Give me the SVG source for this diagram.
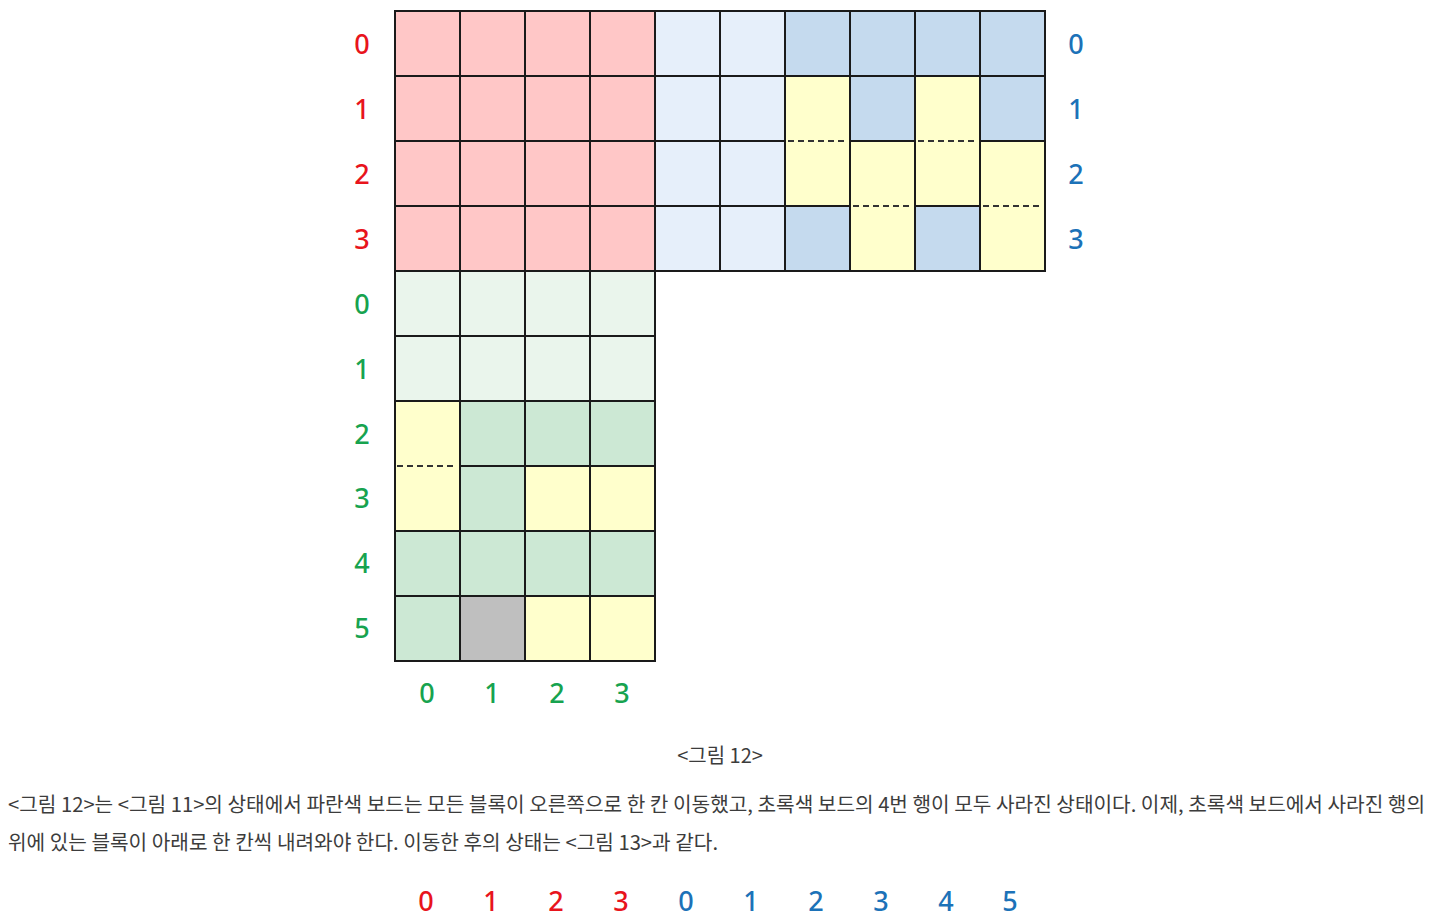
<svg xmlns="http://www.w3.org/2000/svg" width="1440" height="924" viewBox="0 0 1440 924">
<style>
.c{stroke:#1a1a1a;stroke-width:2}
.r{fill:#FFC7C7}.lb{fill:#E6EFFA}.b{fill:#C5DAEE}.y{fill:#FFFFCC}.lg{fill:#EAF5EC}.g{fill:#CCE8D4}.gr{fill:#BFBFBF}
.d{stroke:#333;stroke-width:2;stroke-dasharray:6 4}
.n{font-family:"Noto Sans","Open Sans",sans-serif;font-size:27px;font-weight:500;text-anchor:middle;dominant-baseline:central}
.nr{fill:#E8141C}.ng{fill:#17A34F}.nb{fill:#1C72B8}
.t{font-family:"Noto Sans CJK KR","Noto Sans",sans-serif;font-size:20px;fill:#3c3c3c}
</style>
<rect width="1440" height="924" fill="#fff"/>
<g id="red-board">
<rect class="c r" x="395" y="11" width="65" height="65"/><rect class="c r" x="460" y="11" width="65" height="65"/><rect class="c r" x="525" y="11" width="65" height="65"/><rect class="c r" x="590" y="11" width="65" height="65"/>
<rect class="c r" x="395" y="76" width="65" height="65"/><rect class="c r" x="460" y="76" width="65" height="65"/><rect class="c r" x="525" y="76" width="65" height="65"/><rect class="c r" x="590" y="76" width="65" height="65"/>
<rect class="c r" x="395" y="141" width="65" height="65"/><rect class="c r" x="460" y="141" width="65" height="65"/><rect class="c r" x="525" y="141" width="65" height="65"/><rect class="c r" x="590" y="141" width="65" height="65"/>
<rect class="c r" x="395" y="206" width="65" height="65"/><rect class="c r" x="460" y="206" width="65" height="65"/><rect class="c r" x="525" y="206" width="65" height="65"/><rect class="c r" x="590" y="206" width="65" height="65"/>
</g>
<g id="blue-board">
<rect class="c lb" x="655" y="11" width="65" height="65"/><rect class="c lb" x="720" y="11" width="65" height="65"/><rect class="c b" x="785" y="11" width="65" height="65"/><rect class="c b" x="850" y="11" width="65" height="65"/><rect class="c b" x="915" y="11" width="65" height="65"/><rect class="c b" x="980" y="11" width="65" height="65"/>
<rect class="c lb" x="655" y="76" width="65" height="65"/><rect class="c lb" x="720" y="76" width="65" height="65"/><rect class="y" x="785" y="76" width="65" height="130"/><rect class="c b" x="850" y="76" width="65" height="65"/><rect class="y" x="915" y="76" width="65" height="130"/><rect class="c b" x="980" y="76" width="65" height="65"/>
<rect class="c lb" x="655" y="141" width="65" height="65"/><rect class="c lb" x="720" y="141" width="65" height="65"/><rect class="y" x="850" y="141" width="65" height="130"/><rect class="y" x="980" y="141" width="65" height="130"/>
<rect class="c lb" x="655" y="206" width="65" height="65"/><rect class="c lb" x="720" y="206" width="65" height="65"/><rect class="c b" x="785" y="206" width="65" height="65"/><rect class="c b" x="915" y="206" width="65" height="65"/>
<path fill="none" class="c" d="M785 76H850V206H785ZM915 76H980V206H915ZM850 141H915V271H850ZM980 141H1045V271H980Z"/>
<line class="d" x1="788" y1="141" x2="847" y2="141"/><line class="d" x1="918" y1="141" x2="977" y2="141"/>
<line class="d" x1="853" y1="206" x2="912" y2="206"/><line class="d" x1="983" y1="206" x2="1042" y2="206"/>
</g>
<g id="green-board">
<rect class="c lg" x="395" y="271" width="65" height="65"/><rect class="c lg" x="460" y="271" width="65" height="65"/><rect class="c lg" x="525" y="271" width="65" height="65"/><rect class="c lg" x="590" y="271" width="65" height="65"/>
<rect class="c lg" x="395" y="336" width="65" height="65"/><rect class="c lg" x="460" y="336" width="65" height="65"/><rect class="c lg" x="525" y="336" width="65" height="65"/><rect class="c lg" x="590" y="336" width="65" height="65"/>
<rect class="c y" x="395" y="401" width="65" height="130"/><rect class="c g" x="460" y="401" width="65" height="65"/><rect class="c g" x="525" y="401" width="65" height="65"/><rect class="c g" x="590" y="401" width="65" height="65"/>
<rect class="c g" x="460" y="466" width="65" height="65"/><rect class="c y" x="525" y="466" width="65" height="65"/><rect class="c y" x="590" y="466" width="65" height="65"/>
<rect class="c g" x="395" y="531" width="65" height="65"/><rect class="c g" x="460" y="531" width="65" height="65"/><rect class="c g" x="525" y="531" width="65" height="65"/><rect class="c g" x="590" y="531" width="65" height="65"/>
<rect class="c g" x="395" y="596" width="65" height="65"/><rect class="c gr" x="460" y="596" width="65" height="65"/><rect class="c y" x="525" y="596" width="65" height="65"/><rect class="c y" x="590" y="596" width="65" height="65"/>
<line class="d" x1="397" y1="466" x2="457" y2="466"/>
</g>
<g id="labels">
<g class="n nr"><text x="362" y="43">0</text><text x="362" y="108">1</text><text x="362" y="173">2</text><text x="362" y="238">3</text></g>
<g class="n nb"><text x="1076" y="43">0</text><text x="1076" y="108">1</text><text x="1076" y="173">2</text><text x="1076" y="238">3</text></g>
<g class="n ng"><text x="362" y="303">0</text><text x="362" y="368">1</text><text x="362" y="433">2</text><text x="362" y="497">3</text><text x="362" y="562">4</text><text x="362" y="627">5</text></g>
<g class="n ng"><text x="427" y="692">0</text><text x="492" y="692">1</text><text x="557" y="692">2</text><text x="622" y="692">3</text></g>
<g class="n nr"><text x="426" y="900">0</text><text x="491" y="900">1</text><text x="556" y="900">2</text><text x="621" y="900">3</text></g>
<g class="n nb"><text x="686" y="900">0</text><text x="751" y="900">1</text><text x="816" y="900">2</text><text x="881" y="900">3</text><text x="946" y="900">4</text><text x="1010" y="900">5</text></g>
</g>
<g id="text">
<text class="t" x="720" y="763" text-anchor="middle">&lt;그림 12&gt;</text>
<text class="t" x="8" y="812" textLength="1417" lengthAdjust="spacingAndGlyphs">&lt;그림 12&gt;는 &lt;그림 11&gt;의 상태에서 파란색 보드는 모든 블록이 오른쪽으로 한 칸 이동했고, 초록색 보드의 4번 행이 모두 사라진 상태이다. 이제, 초록색 보드에서 사라진 행의</text>
<text class="t" x="8" y="850" textLength="710" lengthAdjust="spacingAndGlyphs">위에 있는 블록이 아래로 한 칸씩 내려와야 한다. 이동한 후의 상태는 &lt;그림 13&gt;과 같다.</text>
</g>
</svg>
